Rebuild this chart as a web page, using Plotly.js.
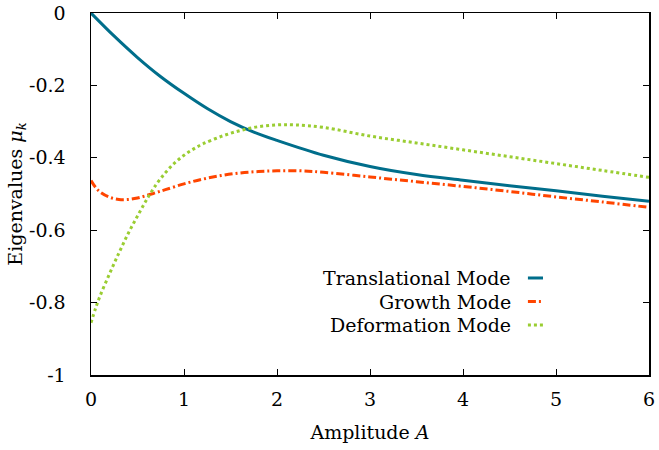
<!DOCTYPE html>
<html>
<head>
<meta charset="utf-8">
<script src="https://cdn.plot.ly/plotly-3.0.1.min.js"></script>
<style>html,body{margin:0;padding:0;background:#fff;}#plot{width:659px;height:450px;}</style>
</head>
<body>
<div id="plot"></div>
<script>
// Data
const transX = [0, 0.25, 0.5, 0.75, 1, 1.25, 1.5, 1.75, 2, 2.5, 3, 3.5, 4, 4.5, 5, 5.5, 6];
const transY = [0, -0.064, -0.123, -0.176, -0.222, -0.264, -0.300, -0.329, -0.352, -0.393, -0.424, -0.446, -0.462, -0.477, -0.491, -0.506, -0.520];

const growthX = [0, 0.05, 0.1, 0.2, 0.3, 0.4, 0.5, 0.6, 0.7, 0.8, 1, 1.2, 1.4, 1.6, 1.8, 2, 2.25, 2.5, 3, 3.5, 4, 4.5, 5, 5.5, 6];
const growthY = [-0.463, -0.482, -0.495, -0.509, -0.515, -0.515, -0.511, -0.504, -0.496, -0.488, -0.472, -0.459, -0.449, -0.442, -0.438, -0.436, -0.436, -0.440, -0.453, -0.466, -0.479, -0.493, -0.508, -0.522, -0.537];

const deformX = [0, 0.05, 0.1, 0.2, 0.3, 0.4, 0.5, 0.6, 0.7, 0.8, 0.9, 1, 1.1, 1.2, 1.4, 1.6, 1.8, 2, 2.2, 2.5, 3, 3.5, 4, 4.5, 5, 5.5, 6];
const deformY = [-0.856, -0.815, -0.780, -0.720, -0.663, -0.609, -0.561, -0.515, -0.474, -0.441, -0.414, -0.393, -0.376, -0.362, -0.341, -0.325, -0.314, -0.309, -0.309, -0.316, -0.340, -0.359, -0.378, -0.397, -0.416, -0.435, -0.454];

const seriesNames = ["Translational Mode", "Growth Mode", "Deformation Mode"];
const seriesColors = ["#006e8b", "#ff4500", "#9acd32"];
const seriesDash = ["solid", "8px,3px,2px,3px", "3px,3px"];

const xTickVals = [0, 1, 2, 3, 4, 5, 6];
const xTickText = ["0", "1", "2", "3", "4", "5", "6"];
const yTickVals = [0, -0.2, -0.4, -0.6, -0.8, -1];
const yTickText = ["0", "-0.2", "-0.4", "-0.6", "-0.8", "-1"];

const FONT = "DejaVu Serif";
const FS = 19;
const seriesX = [transX, growthX, deformX];
const seriesY = [transY, growthY, deformY];

const traces = seriesNames.map((n, i) => ({
  x: seriesX[i], y: seriesY[i], type: "scatter", mode: "lines", name: n,
  line: {color: seriesColors[i], width: 3, dash: seriesDash[i], shape: "spline", smoothing: 1},
  showlegend: false, hoverinfo: "skip"
}));

// Gnuplot-style legend: right-aligned text with sample line on its right
const legTop = 0.268, legStep = 0.065;
const annotations = [], shapes = [];
seriesNames.forEach((n, i) => {
  const yy = legTop - i * legStep;
  annotations.push({xref: "paper", yref: "paper", x: 0.757, y: yy, xanchor: "right", yanchor: "middle",
    text: n, showarrow: false, font: {family: FONT, size: FS, color: "#000"}});
  shapes.push({type: "line", xref: "paper", yref: "paper", x0: 0.783, x1: 0.81, y0: yy, y1: yy,
    line: {color: seriesColors[i], width: 3, dash: seriesDash[i]}});
});

const axisCommon = {
  showline: true, linecolor: "#000", linewidth: 1.5, mirror: "allticks",
  ticks: "inside", ticklen: 6, tickwidth: 1, tickcolor: "#000",
  showgrid: false, zeroline: false, tickmode: "array",
  tickfont: {family: FONT, size: FS, color: "#000"}
};

const layout = {
  width: 659, height: 450,
  margin: {l: 91, r: 10, t: 13, b: 75},
  paper_bgcolor: "#fff", plot_bgcolor: "#fff",
  font: {family: FONT, size: FS, color: "#000"},
  xaxis: Object.assign({}, axisCommon, {range: [0, 6], tickvals: xTickVals, ticktext: xTickText,
    ticklabelstandoff: 7,
    title: {text: "Amplitude <i>A</i>", font: {family: FONT, size: FS, color: "#000"}, standoff: 16}}),
  yaxis: Object.assign({}, axisCommon, {range: [-1, 0], tickvals: yTickVals, ticktext: yTickText,
    ticklabelstandoff: 20,
    title: {text: "Eigenvalues <i>μ<sub>k</sub></i>", font: {family: FONT, size: FS, color: "#000"}, standoff: 1}}),
  annotations: annotations, shapes: shapes, showlegend: false
};

Plotly.newPlot("plot", traces, layout, {staticPlot: true, displayModeBar: false});
</script>
</body>
</html>
